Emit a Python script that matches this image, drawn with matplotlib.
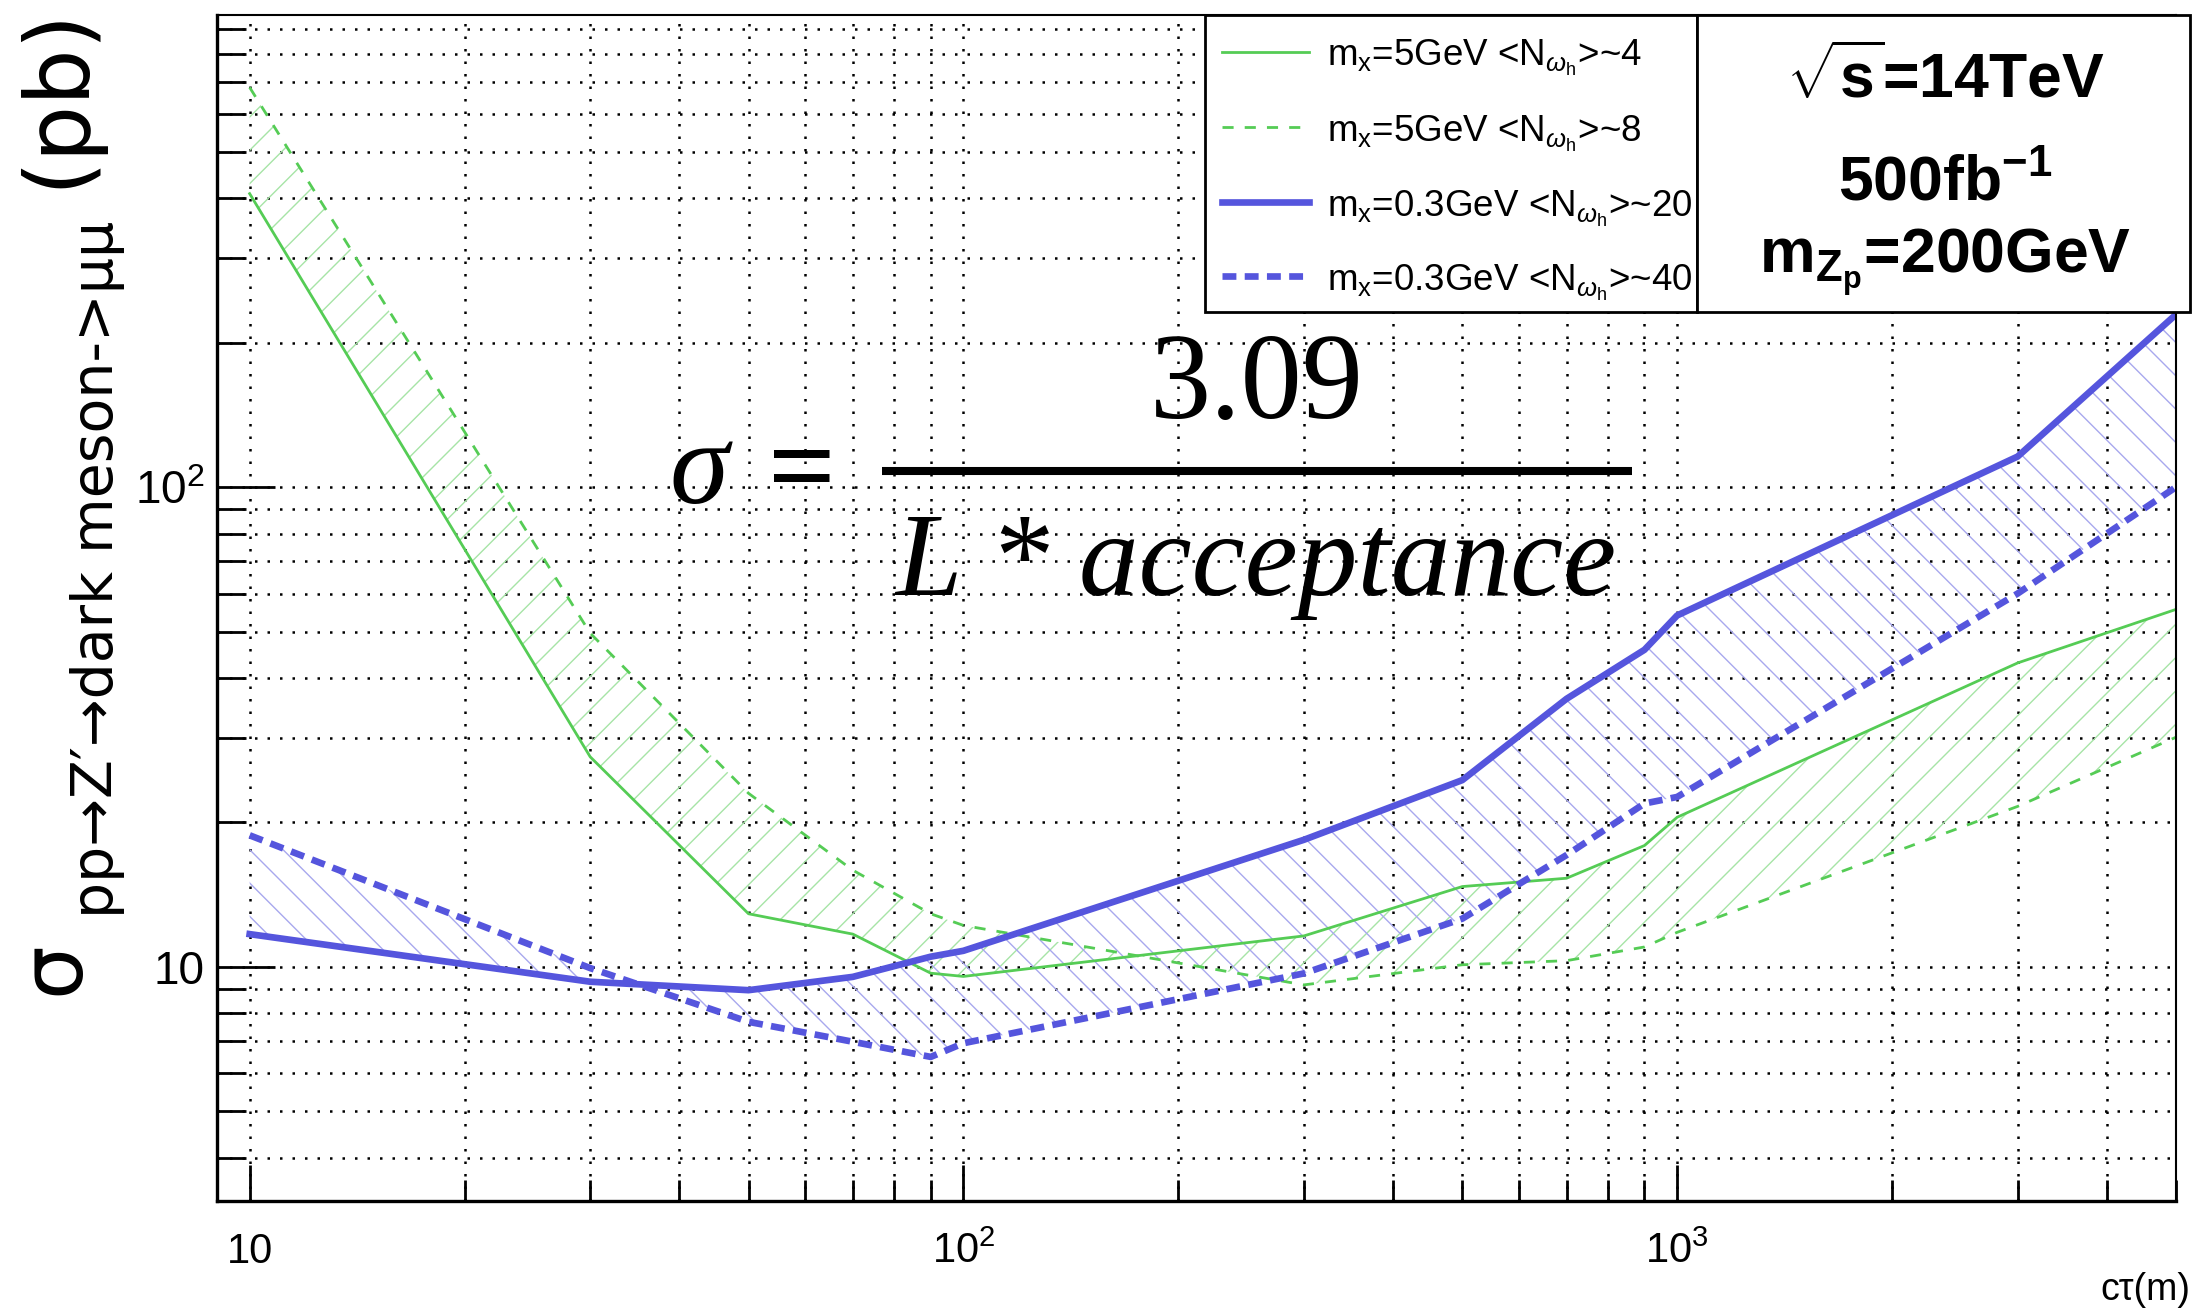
import matplotlib
matplotlib.use('Agg')
import matplotlib.pyplot as plt
from matplotlib.lines import Line2D
from matplotlib.patches import Rectangle
from matplotlib.ticker import FixedLocator, FixedFormatter, LogLocator, NullFormatter
import numpy as np

plt.rcParams['font.family'] = ['Liberation Sans', 'DejaVu Sans']
plt.rcParams['mathtext.fontset'] = 'custom'
plt.rcParams['mathtext.rm'] = 'Liberation Sans'
plt.rcParams['mathtext.it'] = 'Liberation Sans:italic'
plt.rcParams['mathtext.bf'] = 'Liberation Sans:bold'
plt.rcParams['lines.scale_dashes'] = False
plt.rcParams['hatch.linewidth'] = 1.0

# data (c*tau in m, sigma limit in pb)
ctau = [10, 30, 50, 70, 90, 100, 300, 500, 700, 900, 1000, 3000, 5000]
green_n4 = [409, 27.4, 12.9, 11.7, 9.7, 9.55, 11.6, 14.7, 15.3, 17.9, 20.5, 43.0, 55.6]
green_n8 = [681, 49.6, 23.0, 15.9, 12.9, 12.2, 9.17, 10.1, 10.3, 11.0, 11.8, 21.6, 30.1]
blue_n20 = [11.7, 9.31, 8.94, 9.53, 10.5, 10.8, 18.4, 24.5, 36.2, 45.8, 54.0, 115.8, 229]
blue_n40 = [18.8, 9.94, 7.68, 6.98, 6.49, 6.93, 9.69, 12.6, 17.1, 21.9, 22.6, 60.0, 100]

labels = [r'm$_{\mathrm{x}}$=5GeV <N$_{\omega_{\mathrm{h}}}$>~4',
          r'm$_{\mathrm{x}}$=5GeV <N$_{\omega_{\mathrm{h}}}$>~8',
          r'm$_{\mathrm{x}}$=0.3GeV <N$_{\omega_{\mathrm{h}}}$>~20',
          r'm$_{\mathrm{x}}$=0.3GeV <N$_{\omega_{\mathrm{h}}}$>~40']
x_ticks = [10, 100, 1000]
x_ticklabels = ['10', r'10$^{\mathrm{2}}$', r'10$^{\mathrm{3}}$']
y_ticks = [10, 100]
y_ticklabels = ['10', r'10$^{\mathrm{2}}$']

green = '#55cc55'
blue = '#5555dd'
green_hatch = '#a6e4a6'
blue_hatch = '#a8a8ee'

W, H = 2192, 1309


def fx(px):
    return px / W


def fy(py):
    return 1 - py / H


fig = plt.figure(figsize=(W / 100, H / 100), dpi=100)
ax = fig.add_axes([fx(217), fy(1201), fx(2176) - fx(217), fy(15) - fy(1201)])
ax.set_xscale('log')
ax.set_yscale('log')
ax.set_xlim(9, 5000)
ax.set_ylim(3.25, 964)

# hatched bands between the two curves of each mass point
ax.fill_between(ctau, green_n4, green_n8, facecolor='none', edgecolor=green_hatch,
                hatch='/', linewidth=0, zorder=1.5)
ax.fill_between(ctau, blue_n20, blue_n40, facecolor='none', edgecolor=blue_hatch,
                hatch='\\', linewidth=0, zorder=1.5)

styles = [dict(color=green, lw=2.0, linestyle='-'),
          dict(color=green, lw=2.0, linestyle=(0, (8, 8))),
          dict(color=blue, lw=4.8, linestyle='-'),
          dict(color=blue, lw=4.8, linestyle=(0, (10, 6)))]
for ys, st in zip([green_n4, green_n8, blue_n20, blue_n40], styles):
    ax.plot(ctau, ys, zorder=2, **st)

# axes, ticks, grid
ax.xaxis.set_major_locator(FixedLocator(x_ticks))
ax.xaxis.set_major_formatter(FixedFormatter(x_ticklabels))
ax.yaxis.set_major_locator(FixedLocator(y_ticks))
ax.yaxis.set_major_formatter(FixedFormatter(y_ticklabels))
ax.xaxis.set_minor_locator(LogLocator(base=10, subs=np.arange(2, 10), numticks=50))
ax.yaxis.set_minor_locator(LogLocator(base=10, subs=np.arange(2, 10), numticks=50))
ax.xaxis.set_minor_formatter(NullFormatter())
ax.yaxis.set_minor_formatter(NullFormatter())

ax.tick_params(axis='both', which='both', direction='in', top=False, right=False, colors='black')
ax.tick_params(axis='y', which='major', length=42, width=2, labelsize=33, pad=9)
ax.tick_params(axis='y', which='minor', length=21, width=2)
ax.tick_params(axis='x', which='major', length=26, width=2, labelsize=30, pad=22)
ax.tick_params(axis='x', which='minor', length=15, width=2)

ax.set_axisbelow(True)
ax.grid(True, which='both', color='black', linewidth=1.8, linestyle=(0, (1.8, 7.2)))

for side in ['left', 'bottom']:
    ax.spines[side].set_linewidth(2.4)
for side in ['top', 'right']:
    ax.spines[side].set_linewidth(1.5)

# legend box and info box
fig.add_artist(Rectangle((fx(1205), fy(312)), fx(1697) - fx(1205), fy(15) - fy(312),
                         transform=fig.transFigure, facecolor='white', edgecolor='black',
                         linewidth=2, zorder=3))
fig.add_artist(Rectangle((fx(1697), fy(312)), fx(2190) - fx(1697), fy(15) - fy(312),
                         transform=fig.transFigure, facecolor='white', edgecolor='black',
                         linewidth=2, zorder=3))

line_y = [52, 127, 202, 276]
text_y = [66, 142, 217, 291]
for st, lab, ly, ty in zip(styles, labels, line_y, text_y):
    fig.add_artist(Line2D([fx(1222), fx(1309)], [fy(ly), fy(ly)], transform=fig.transFigure,
                          zorder=4, **st))
    fig.text(fx(1327), fy(ty), lab, fontsize=26.5, ha='left', va='baseline', zorder=4)

fig.text(fx(1945), fy(98), r'$\sqrt{\mathbf{s}}$=14TeV', fontsize=45, weight='bold',
         ha='center', va='baseline', zorder=4)
fig.text(fx(1945), fy(200), r'500fb$^{\mathbf{-1}}$', fontsize=45, weight='bold',
         ha='center', va='baseline', zorder=4)
fig.text(fx(1945), fy(273), r'm$_{\mathbf{Z_{p}}}$=200GeV', fontsize=45, weight='bold',
         ha='center', va='baseline', zorder=4)

# formula
fig.text(fx(669), fy(503), 'σ', family='Liberation Serif', style='italic', fontsize=86)
fig.text(fx(768), fy(505), '=', family='Liberation Serif', weight='bold', fontsize=86)
fig.add_artist(Line2D([fx(882), fx(1632)], [fy(471), fy(471)], transform=fig.transFigure,
                      color='black', lw=5.8, solid_capstyle='butt', zorder=4))
fig.text(fx(1257), fy(418), '3.09', family='Liberation Serif', fontsize=88,
         ha='center', va='baseline')
fig.text(fx(895), fy(595), 'L * acceptance', family='Liberation Serif', style='italic',
         fontsize=86, ha='left', va='baseline')

# axis titles
ylab = dict(rotation=90, rotation_mode='anchor', ha='left', va='baseline',
            family=['DejaVu Sans'])
fig.text(fx(78), fy(995), 'σ', fontsize=61, **ylab)
fig.text(fx(113), fy(918), 'pp→Z′→dark meson->μμ', fontsize=41, **ylab)
fig.text(fx(82), fy(188), '(pb)', fontsize=64, **ylab)

fig.text(fx(2190), fy(1300), 'cτ(m)', fontsize=27, ha='right', va='baseline')

fig.savefig('out.png', dpi=100)
